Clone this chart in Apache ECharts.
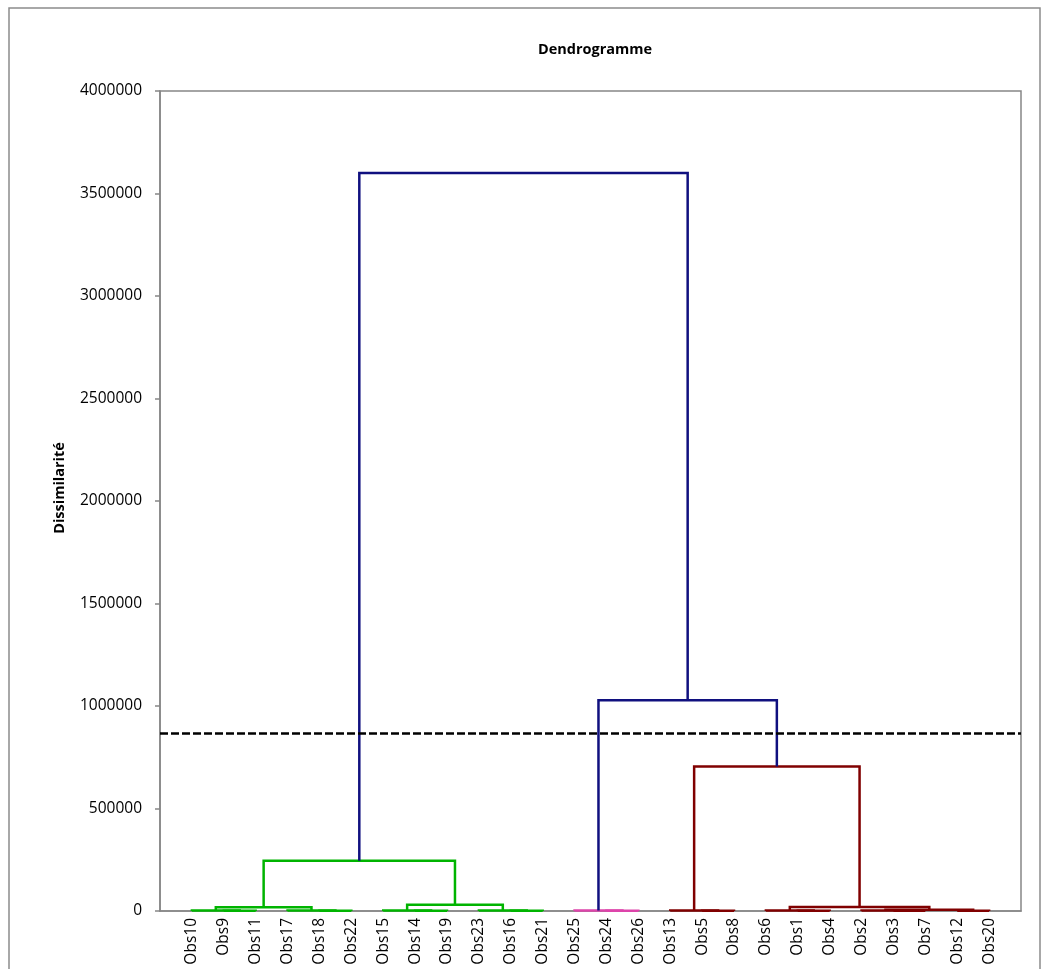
<!DOCTYPE html>
<html>
<head>
<meta charset="utf-8">
<script src="https://cdn.jsdelivr.net/npm/echarts@6/dist/echarts.min.js"></script>
<style>html,body{margin:0;padding:0;background:#fff}#chart{width:1049px;height:969px}</style>
</head>
<body>
<div id="chart"></div>
<script>
// Leaf order along the x axis
const observations = ['Obs10','Obs9','Obs11','Obs17','Obs18','Obs22','Obs15','Obs14','Obs19','Obs23','Obs16','Obs21',
  'Obs25','Obs24','Obs26','Obs13','Obs5','Obs8','Obs6','Obs1','Obs4','Obs2','Obs3','Obs7','Obs12','Obs20'];
// Merges: children are leaf names or 'mN' (N = 1-based merge number)
const mergeLeft  = ['Obs9','Obs10','Obs18','Obs17','m2','Obs14','Obs15','Obs16','Obs23','m7','m5','Obs24','Obs25',
  'Obs5','Obs13','Obs1','Obs6','Obs3','Obs2','Obs12','m19','m17','m15','m13','m11'];
const mergeRight = ['Obs11','m1','Obs22','m3','m4','Obs19','m6','Obs21','m8','m9','m10','Obs26','m12',
  'Obs8','m14','Obs4','m16','Obs7','m18','Obs20','m20','m21','m22','m23','m24'];
const mergeHeight = [1500,3000,1200,2500,18000,1500,2500,1300,2800,31000,245000,1500,2500,
  1500,2500,1500,2500,1000,2000,1500,6000,20000,705000,1028000,3600000];
const cutHeight = 865000;
const yTicks = [0,500000,1000000,1500000,2000000,2500000,3000000,3500000,4000000];

const clusterColors = ['#00B400', '#DD44AA', '#800000'];
const aboveCutColor = '#10107F';

// compute node positions
const nodeX = {}, nodeH = {};
observations.forEach((n, i) => { nodeX[n] = i + 1; nodeH[n] = 0; });
for (let i = 0; i < mergeHeight.length; i++) {
  const id = 'm' + (i + 1);
  nodeX[id] = (nodeX[mergeLeft[i]] + nodeX[mergeRight[i]]) / 2;
  nodeH[id] = mergeHeight[i];
}
const parent = {};
for (let i = 0; i < mergeHeight.length; i++) {
  parent[mergeLeft[i]] = 'm' + (i + 1);
  parent[mergeRight[i]] = 'm' + (i + 1);
}
function clusterRoot(id) {
  let cur = id;
  while (parent[cur] && nodeH[parent[cur]] < cutHeight) cur = parent[cur];
  return cur;
}
const rootOrder = [];
observations.forEach(n => { const r = clusterRoot(n); if (!rootOrder.includes(r)) rootOrder.push(r); });

const linkData = [];
for (let i = 0; i < mergeHeight.length; i++) {
  const id = 'm' + (i + 1);
  const a = mergeLeft[i], b = mergeRight[i], h = mergeHeight[i];
  const color = h >= cutHeight ? aboveCutColor : clusterColors[rootOrder.indexOf(clusterRoot(id)) % clusterColors.length];
  linkData.push({
    coords: [[nodeX[a], nodeH[a]], [nodeX[a], h], [nodeX[b], h], [nodeX[b], nodeH[b]]],
    lineStyle: { color: color }
  });
}

const font = '"Open Sans", Lato, sans-serif';
const chart = echarts.init(document.getElementById('chart'), null, { renderer: 'canvas' });
chart.setOption({
  animation: false,
  backgroundColor: '#fff',
  title: {
    text: 'Dendrogramme', left: 590, top: 37, textAlign: 'center',
    textStyle: { fontFamily: font, fontWeight: 'bold', fontSize: 14.5, color: '#000' }
  },
  graphic: [{
    type: 'rect', shape: { x: 9, y: 8, width: 1031, height: 990 },
    style: { fill: 'none', stroke: '#8c8c8c', lineWidth: 1.5 }, silent: true, z: -1
  }],
  grid: { left: 160, right: 28, top: 91, bottom: 58, show: true, borderColor: '#868686', borderWidth: 1.5, backgroundColor: 'transparent' },
  xAxis: {
    type: 'value', min: 0, max: observations.length + 1, interval: 1,
    axisLine: { show: true, lineStyle: { color: '#868686', width: 1.5 } },
    axisTick: { show: false },
    splitLine: { show: false },
    axisLabel: {
      rotate: 90, margin: 7, fontFamily: font, fontSize: 15.5, color: '#000',
      formatter: v => observations[v - 1] || ''
    }
  },
  yAxis: {
    type: 'value', min: 0, max: yTicks[yTicks.length - 1], interval: yTicks[1] - yTicks[0],
    name: 'Dissimilarité', nameLocation: 'middle', nameGap: 93,
    nameTextStyle: { fontFamily: font, fontWeight: 'bold', fontSize: 14.5, color: '#000', padding: [0, 0, 0, 26] },
    axisLine: { show: true, lineStyle: { color: '#868686', width: 1.5 } },
    axisTick: { show: true, inside: false, length: 5, lineStyle: { color: '#868686', width: 1.5 } },
    splitLine: { show: false },
    axisLabel: { margin: 18, fontFamily: font, fontSize: 15.5, color: '#000', formatter: v => String(v) }
  },
  series: [{
    type: 'lines', coordinateSystem: 'cartesian2d', polyline: true,
    lineStyle: { width: 2.5, opacity: 1 },
    data: linkData, z: 3
  }, {
    type: 'lines', coordinateSystem: 'cartesian2d',
    lineStyle: { width: 2.5, color: '#000', type: [8, 3], opacity: 1 },
    data: [{ coords: [[0, cutHeight], [observations.length + 1, cutHeight]] }], z: 4
  }]
});
</script>
</body>
</html>
